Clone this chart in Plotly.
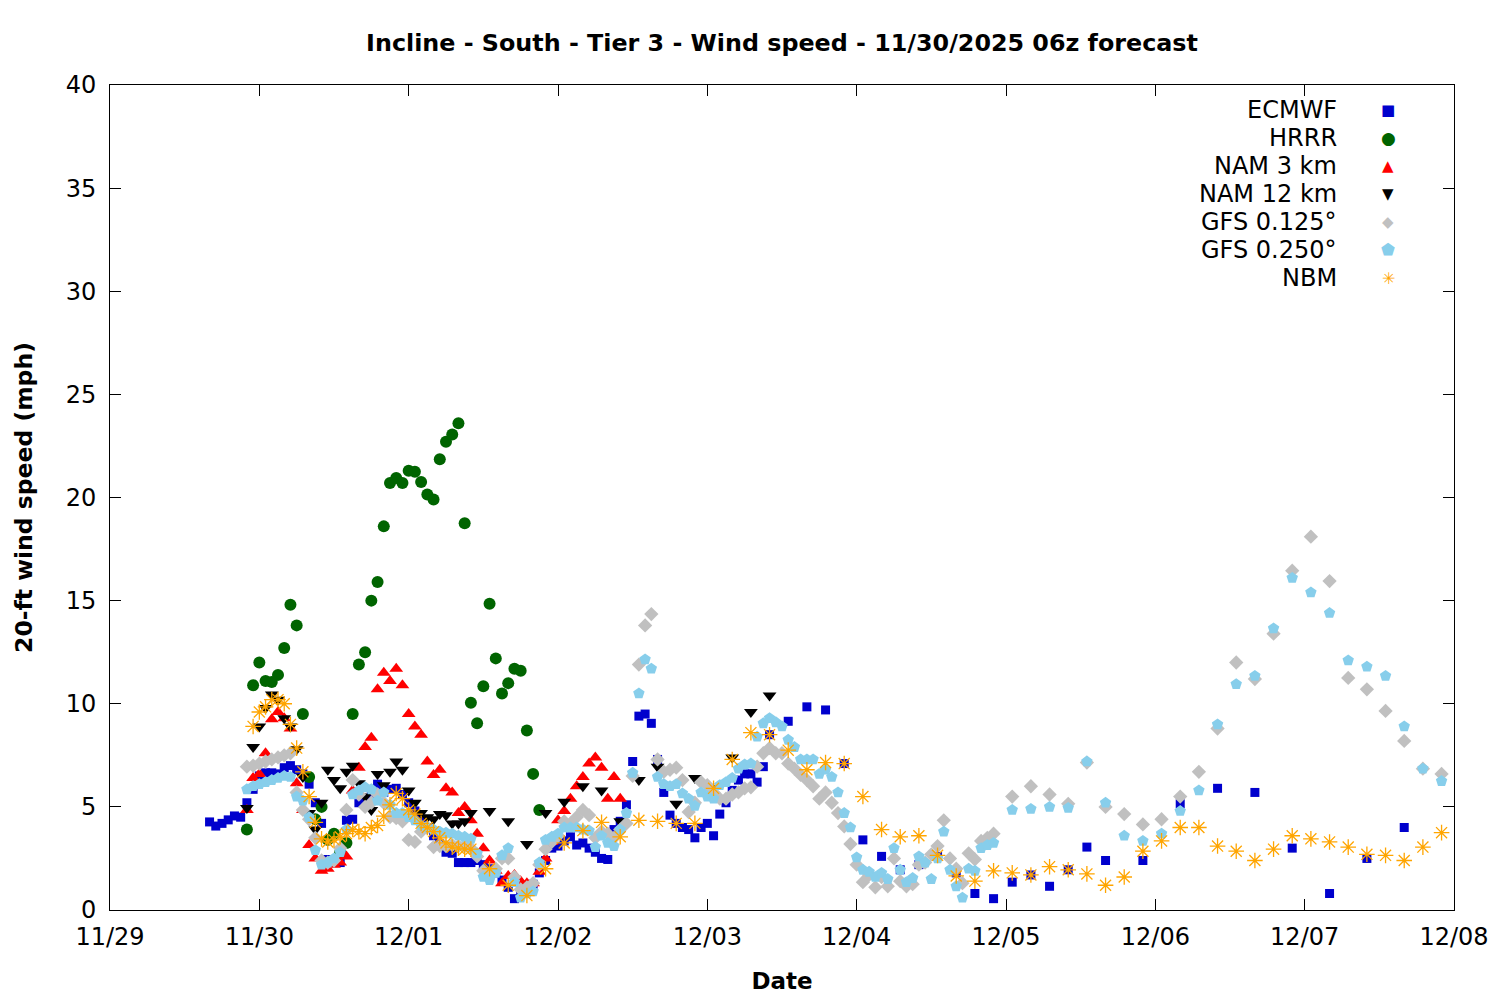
import pandas as pd
import plotly.graph_objects as go

# Forecast start, hours below are counted from 11/29 00:00 (local)
base_date = pd.Timestamp("2025-11-29")

# ECMWF - hourly, then 3-hourly, then 6-hourly
ecmwf_hours = list(range(16, 107)) + list(range(109, 161, 3)) + [166] + list(range(172, 209, 6))
ecmwf_vals = [
    4.27, 4.07, 4.2, 4.37, 4.56, 4.5,
    5.2, 5.85, 6.5, 6.65, 6.65, 6.6, 6.9, 7.0, 6.8, 6.6,
    6.1, 5.2, 4.2, 2.45, 2.3, 2.3, 4.35, 4.4, 5.2, 5.35,
    5.6, 6.1, 5.7, 5.85, 5.9, 5.6, 5.2, 4.8, 4.4, 4.0,
    3.6, 3.2, 2.8, 2.75, 2.3, 2.3, 2.3, 2.4, 2.2, 2.0,
    1.8, 1.45, 1.1, 0.55, 0.9, 1.2, 1.25, 1.8, 2.4, 3.0,
    3.1, 3.35, 3.55, 3.15, 3.25, 3.0, 2.8, 2.5, 2.45, 3.9,
    4.3, 5.1, 7.2, 9.4, 9.5, 9.05, 7.3, 5.7, 4.6, 4.2,
    4.0, 3.9, 3.5, 4.0, 4.2, 3.6, 4.65, 5.2, 5.8, 6.3,
    6.6, 6.6, 6.2, 6.95, 8.5,
    9.15, 9.85, 9.7, 7.1, 3.4, 2.6, 1.95, 2.2, 2.6, 1.8,
    0.8, 0.55, 1.35, 1.7, 1.15, 1.95, 3.05, 2.4,
    2.4,
    5.15, 5.9, 5.7, 3.0, 0.8, 2.5, 4.0,
]

# HRRR - hourly
hrrr_hours = list(range(22, 70))
hrrr_vals = [
    3.9, 10.9, 12.0, 11.1, 11.05, 11.4, 12.7, 14.8, 13.8, 9.5,
    6.45, 4.4, 5.0, 3.4, 3.7, 2.8, 3.25, 9.5, 11.9, 12.5,
    15.0, 15.9, 18.6, 20.7, 20.95, 20.7, 21.3, 21.25, 20.75, 20.15,
    19.9, 21.85, 22.7, 23.05, 23.6, 18.75, 10.05, 9.05, 10.85, 14.85,
    12.2, 10.5, 11.0, 11.7, 11.6, 8.7, 6.6, 4.85,
]

# NAM 3 km - hourly
nam3_hours = list(range(22, 83))
nam3_vals = [
    4.85, 6.4, 6.6, 7.6, 9.25, 9.6, 9.3, 8.8, 6.15, 4.85,
    3.15, 2.5, 1.9, 2.0, 2.2, 2.3, 2.6, 5.8, 6.9, 7.9,
    8.35, 10.7, 11.5, 11.1, 11.7, 10.9, 9.5, 8.9, 8.5, 7.2,
    6.55, 6.8, 5.9, 5.7, 4.7, 5.0, 4.35, 3.7, 3.0, 2.4,
    1.9, 1.3, 1.65, 1.7, 1.4, 1.3, 1.3, 1.85, 2.5, 3.3,
    4.35, 4.8, 5.4, 6.0, 6.45, 7.1, 7.4, 6.9, 5.4, 6.45,
    5.4,
]

# NAM 12 km - hourly then 3-hourly
nam12_hours = list(range(22, 59)) + list(range(61, 107, 3))
nam12_vals = [
    4.95, 7.9, 8.9, 9.8, 10.45, 10.2, 9.3, 8.9, 7.8, 6.45,
    4.7, 3.9, 5.2, 6.8, 6.3, 5.9, 6.7, 7.0, 6.15, 5.5,
    4.85, 6.6, 6.05, 6.7, 7.2, 6.8, 5.8, 5.2, 4.7, 4.5,
    4.4, 4.65, 4.6, 4.2, 4.2, 4.3, 4.7,
    4.8, 4.3, 3.2, 4.7, 5.25, 6.0, 5.8, 4.3, 6.3, 6.95,
    5.15, 6.4, 5.9, 7.4, 9.6, 10.4,
]

# GFS 0.125 deg - hourly then 3-hourly
gfs125_hours = list(range(22, 143)) + list(range(145, 215, 3))
gfs125_vals = [
    6.95, 7.0, 7.1, 7.2, 7.3, 7.4, 7.5, 7.6, 5.7, 4.85,
    4.4, 3.5, 2.4, 2.3, 2.4, 3.0, 4.85, 6.3, 5.6, 5.0,
    5.2, 5.6, 5.2, 4.5, 4.45, 4.3, 3.4, 3.3, 3.8, 4.0,
    3.05, 3.1, 3.1, 3.15, 3.1, 3.1, 3.0, 2.6, 1.9, 1.7,
    2.0, 2.5, 2.5, 1.6, 1.0, 1.1, 1.3, 2.2, 2.95, 3.3,
    3.6, 4.3, 4.2, 4.5, 4.85, 4.6, 3.5, 3.8, 3.7, 3.5,
    3.9, 4.2, 6.5, 11.9, 13.8, 14.35, 7.3, 6.7, 6.8, 6.9,
    6.3, 4.75, 5.2, 6.2, 6.05, 5.7, 5.4, 5.4, 5.6, 5.7,
    5.9, 5.95, 6.95, 7.6, 7.85, 7.6, 7.6, 7.1, 6.85, 6.55,
    6.3, 6.0, 5.4, 5.7, 5.2, 4.7, 4.05, 3.2, 2.2, 1.35,
    1.7, 1.1, 1.6, 1.15, 2.5, 1.4, 1.15, 1.25, 2.2, 2.3,
    2.7, 3.1, 4.35, 2.5, 2.0, 1.3, 2.75, 2.45, 3.35, 3.5,
    3.7,
    5.5, 6.0, 5.6, 5.15, 7.15, 5.0, 4.65, 4.15, 4.4, 5.5,
    6.7, 8.8, 12.0, 11.2, 13.4, 16.45, 18.1, 15.95, 11.25, 10.7,
    9.65, 8.2, 6.85, 6.6,
]

# GFS 0.250 deg - hourly then 3-hourly
gfs250_hours = list(range(22, 143)) + list(range(145, 215, 3))
gfs250_vals = [
    5.85, 6.0, 6.1, 6.2, 6.3, 6.4, 6.5, 6.45, 5.5, 5.3,
    4.5, 2.9, 2.2, 2.3, 2.5, 2.8, 3.9, 5.6, 5.8, 5.95,
    5.85, 5.3, 5.7, 5.1, 4.7, 4.7, 4.5, 4.35, 4.1, 4.0,
    3.9, 3.8, 3.75, 3.7, 3.6, 3.55, 3.45, 2.75, 1.6, 1.45,
    1.8, 2.65, 3.0, 1.35, 0.6, 0.8, 0.9, 2.3, 3.4, 3.55,
    3.7, 4.0, 4.0, 4.0, 3.9, 3.85, 3.05, 3.6, 3.25, 3.1,
    3.9, 4.7, 6.65, 10.5, 12.15, 11.7, 6.45, 6.1, 6.0, 6.1,
    5.65, 5.4, 5.05, 5.7, 5.5, 5.4, 6.05, 6.2, 6.4, 6.85,
    7.05, 7.1, 8.4, 9.05, 9.3, 9.1, 8.9, 8.25, 7.9, 7.3,
    7.3, 7.3, 6.6, 6.8, 6.45, 5.7, 4.7, 4.0, 2.55, 1.95,
    1.85, 1.6, 1.8, 1.5, 3.0, 1.95, 1.35, 1.55, 2.6, 2.3,
    1.5, 2.5, 3.8, 1.95, 1.15, 0.6, 2.0, 1.9, 3.0, 3.15,
    3.25,
    4.85, 4.9, 5.0, 4.95, 7.2, 5.2, 3.6, 3.35, 3.7, 4.8,
    5.8, 9.0, 10.95, 11.35, 13.65, 16.1, 15.4, 14.4, 12.1, 11.8,
    11.35, 8.9, 6.85, 6.25,
]

# NBM - hourly then 3-hourly
nbm_hours = list(range(23, 59)) + list(range(61, 215, 3))
nbm_vals = [
    8.9, 9.6, 9.85, 10.2, 10.2, 10.0, 9.0, 7.85, 6.7, 5.5,
    4.25, 3.45, 3.3, 3.4, 3.55, 3.7, 3.9, 3.8, 3.7, 4.0,
    4.1, 4.55, 5.1, 5.65, 5.4, 4.85, 4.65, 4.2, 4.0, 3.8,
    3.5, 3.25, 3.05, 3.0, 2.95, 2.95,
    2.0, 1.2, 0.7, 2.0, 3.25, 3.85, 4.25, 3.55, 4.35, 4.3,
    4.2, 4.2, 5.9, 7.3, 8.6, 8.5, 7.75, 6.8, 7.15, 7.1,
    5.5, 3.9, 3.55, 3.6, 2.65, 1.65, 1.4, 1.9, 1.8, 1.7,
    2.1, 1.95, 1.75, 1.2, 1.6, 2.85, 3.35, 4.0, 4.0, 3.1,
    2.85, 2.4, 2.95, 3.6, 3.45, 3.3, 3.05, 2.7, 2.65, 2.4,
    3.05, 3.75,
]

tick_dates = ["2025-11-29", "2025-11-30", "2025-12-01", "2025-12-02", "2025-12-03",
              "2025-12-04", "2025-12-05", "2025-12-06", "2025-12-07", "2025-12-08"]
tick_labels = ["11/29", "11/30", "12/01", "12/02", "12/03",
               "12/04", "12/05", "12/06", "12/07", "12/08"]


def to_time(hours):
    return base_date + pd.to_timedelta(hours, unit="h")


FONT = "DejaVu Sans"

# name, hours, values, symbol, size, color, legend glyph, glyph size
series = [
    ("ECMWF", ecmwf_hours, ecmwf_vals, "square", 9, "#0000cd", "\u25a0", 15),
    ("HRRR", hrrr_hours, hrrr_vals, "circle", 12, "#006400", "\u25cf", 17),
    ("NAM 3 km", nam3_hours, nam3_vals, "triangle-up", 12, "#ff0000", "\u25b2", 15),
    ("NAM 12 km", nam12_hours, nam12_vals, "triangle-down", 12, "#000000", "\u25bc", 15),
    ("GFS 0.125\u00b0", gfs125_hours, gfs125_vals, "diamond", 11, "#c0c0c0", "\u25c6", 15),
    ("GFS 0.250\u00b0", gfs250_hours, gfs250_vals, "pentagon", 12, "#87ceeb", "\u2b1f", 16),
    ("NBM", nbm_hours, nbm_vals, "asterisk-open", 13, "#ffa500", "\u2733", 16),
]

fig = go.Figure()

for name, hrs, vals, sym, size, color, glyph, gsize in series:
    marker = dict(symbol=sym, size=size, color=color)
    if sym == "asterisk-open":
        marker["line"] = dict(color=color, width=1.3)
    else:
        marker["line"] = dict(width=0)
    fig.add_trace(go.Scatter(
        x=to_time(hrs),
        y=vals,
        mode="markers",
        name=name,
        marker=marker,
        showlegend=False,
    ))

# gnuplot style key: right aligned text with the symbol to its right
annotations = []
for i, (name, hrs, vals, sym, size, color, glyph, gsize) in enumerate(series):
    y_row = 0.9697 - i * 0.03394
    annotations.append(dict(
        text=name, x=0.9145, y=y_row, xref="paper", yref="paper",
        xanchor="right", yanchor="middle", showarrow=False,
        font=dict(family=FONT, size=24, color="black"),
    ))
    annotations.append(dict(
        text=glyph, x=0.951, y=y_row, xref="paper", yref="paper",
        xanchor="center", yanchor="middle", showarrow=False,
        font=dict(family=FONT, size=gsize, color=color),
    ))

axis_style = dict(
    showline=True, linecolor="black", linewidth=1, mirror="allticks",
    ticks="inside", ticklen=11, tickcolor="black", tickwidth=1,
    showgrid=False, zeroline=False,
    tickfont=dict(family=FONT, size=24, color="black"),
)

# the page adds an 8px body margin, so the margins are shifted to compensate
fig.update_layout(
    width=1500,
    height=1000,
    plot_bgcolor="white",
    paper_bgcolor="white",
    margin=dict(l=102, r=54, t=77, b=98, autoexpand=False),
    font=dict(family=FONT, color="black"),
    title=dict(
        text="<b>Incline - South - Tier 3 - Wind speed - 11/30/2025 06z forecast</b>",
        x=0.5, xref="paper", y=0.965, yanchor="middle",
        font=dict(family=FONT, size=23.8, color="black"),
    ),
    xaxis=dict(
        type="date",
        range=["2025-11-29", "2025-12-08"],
        tickvals=tick_dates,
        ticktext=tick_labels,
        ticklabelstandoff=5,
        automargin=False,
        title=dict(text="<b>Date</b>", standoff=23,
                   font=dict(family=FONT, size=23, color="black")),
        **axis_style,
    ),
    yaxis=dict(
        range=[0, 40],
        dtick=5,
        tick0=0,
        ticklabelstandoff=8,
        automargin=False,
        title=dict(text="<b>20-ft wind speed (mph)</b>", standoff=26,
                   font=dict(family=FONT, size=23.5, color="black")),
        **axis_style,
    ),
    annotations=annotations,
)

fig.write_html("out.html")
